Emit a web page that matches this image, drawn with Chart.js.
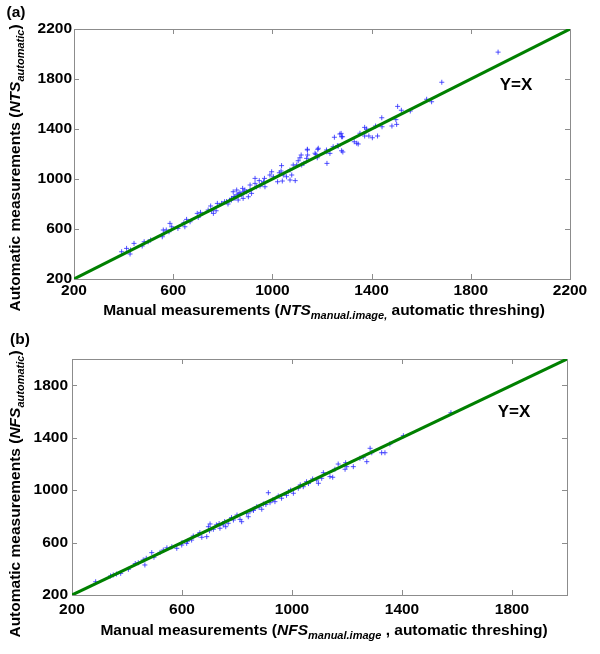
<!DOCTYPE html>
<html>
<head>
<meta charset="utf-8">
<script src="https://cdn.jsdelivr.net/npm/chart.js@4"></script>
<style>
  body { margin: 0; background: #fff; }
  #wrap { position: relative; width: 600px; height: 654px; font-family: "Liberation Sans", Arial, sans-serif; font-weight: bold; color: #000; }
  canvas { position: absolute; left: 0; }
  .lbl { position: absolute; white-space: nowrap; font-size: 15.5px; transform: translate(-50%, -50%); }
  .rot { transform: translate(-50%, -50%) rotate(-90deg); }
  .lbl sub { font-size: 11px; font-style: italic; vertical-align: -4px; }
  .lbl i { font-style: italic; }
  .yx { font-size: 17px; }
</style>
</head>
<body>
<div id="wrap">
  <canvas id="chartA" width="600" height="325" style="top:0"></canvas>
  <canvas id="chartB" width="600" height="329" style="top:325px"></canvas>

  <div class="lbl" style="left:16px; top:12px">(a)</div>
  <div class="lbl rot" style="left:16px; top:168px">Automatic measurements (<i>NTS</i><sub>automatic</sub>)</div>
  <div class="lbl" style="left:324px; top:311px">Manual measurements (<i>NTS</i><sub>manual.image,</sub> automatic threshing)</div>
  <div class="lbl yx" style="left:516px; top:85px">Y=X</div>

  <div class="lbl" style="left:20px; top:339px">(b)</div>
  <div class="lbl rot" style="left:16px; top:494px">Automatic measurements (<i>NFS</i><sub>automatic</sub>)</div>
  <div class="lbl" style="left:324px; top:631px">Manual measurements (<i>NFS</i><sub>manual.image</sub> , automatic threshing)</div>
  <div class="lbl yx" style="left:514px; top:412px">Y=X</div>
</div>
<script>
// Panel (a): NTS, manual vs automatic
const ntsManual = [392, 412, 428, 426, 442, 475, 483, 499, 509, 560, 563, 572, 556, 587, 594, 583, 619, 643, 647, 654,
  668, 697, 701, 710, 741, 751, 762, 773, 778, 795, 807, 821, 835, 849, 856, 858, 862, 755, 815, 828,
  845, 870, 885, 862, 842, 876, 896, 916, 849, 882, 835, 903, 869, 880, 889, 910, 910, 930, 930, 936,
  950, 970, 947, 957, 964, 968, 990, 997, 1004, 1021, 1028, 1035, 1037, 1040, 1044, 1057, 1071, 1071, 1078, 1092,
  1084, 1098, 1104, 1111, 1118, 1116, 1127, 1138, 1141, 1142, 1141, 1172, 1175, 1181, 1183, 1185, 1218, 1219, 1220, 1232,
  1245, 1250, 1262, 1266, 1272, 1277, 1279, 1279, 1283, 1284, 1330, 1340, 1346, 1353, 1372, 1372, 1377, 1380, 1389, 1403,
  1416, 1424, 1441, 1442, 1482, 1498, 1501, 1505, 1520, 1556, 1622, 1642, 1683, 1910];
const ntsAuto = [418, 445, 432, 400, 485, 464, 498, 498, 512, 592, 565, 592, 538, 645, 618, 578, 605, 650, 618, 677,
  658, 725, 693, 733, 752, 784, 725, 746, 805, 805, 818, 800, 832, 845, 912, 872, 832, 746, 820, 830,
  860, 880, 900, 880, 898, 872, 898, 885, 858, 845, 845, 858, 890, 925, 912, 952, 912, 1005, 965, 938,
  944, 938, 987, 960, 978, 1005, 1032, 1058, 1018, 978, 1050, 1064, 1107, 984, 1032, 1018, 1072, 992, 1032, 987,
  1112, 1112, 1146, 1170, 1112, 1192, 1125, 1165, 1232, 1192, 1238, 1206, 1197, 1170, 1237, 1246, 1232, 1218, 1125, 1205,
  1258, 1334, 1266, 1264, 1360, 1365, 1338, 1226, 1338, 1216, 1298, 1286, 1280, 1366, 1413, 1344, 1378, 1400, 1344, 1330,
  1424, 1344, 1490, 1418, 1424, 1475, 1437, 1581, 1550, 1544, 1638, 1618, 1774, 2015];
const ntsTicks = [200, 600, 1000, 1400, 1800, 2200];

// Panel (b): NFS, manual vs automatic
const nfsManual = [286, 340, 350, 362, 377, 405, 430, 441, 459, 465, 470, 490, 498, 520, 532, 545, 563, 581, 599, 600,
  617, 620, 635, 641, 659, 665, 672, 690, 696, 700, 702, 714, 725, 735, 738, 750, 755, 759, 768, 780,
  787, 800, 811, 817, 835, 841, 847, 859, 860, 872, 880, 890, 896, 905, 914, 920, 930, 938, 950, 962,
  980, 987, 995, 1005, 1023, 1030, 1041, 1053, 1060, 1075, 1090, 1096, 1108, 1114, 1138, 1148, 1156, 1168, 1193, 1195,
  1199, 1223, 1247, 1259, 1272, 1284, 1290, 1326, 1338, 1356, 1405, 1578];
const nfsAuto = [301, 345, 353, 360, 365, 396, 440, 446, 467, 429, 480, 523, 488, 525, 543, 560, 568, 556, 581, 600,
  594, 610, 619, 650, 658, 675, 640, 645, 721, 690, 742, 701, 735, 745, 709, 734, 760, 721, 747, 790,
  772, 810, 777, 759, 823, 797, 835, 854, 845, 874, 870, 854, 894, 890, 980, 904, 925, 912, 955, 938,
  960, 988, 1000, 976, 1014, 1040, 1026, 1064, 1050, 1085, 1077, 1052, 1090, 1133, 1103, 1098, 1159, 1199, 1159, 1209,
  1179, 1179, 1243, 1251, 1217, 1319, 1285, 1285, 1285, 1352, 1415, 1590];
const nfsTicks = [200, 600, 1000, 1400, 1800];

const tickFont = { family: '"Liberation Sans", Arial, sans-serif', size: 15.5, weight: 'bold' };

// MATLAB-style grey box with inward ticks on all four sides
const boxTicks = {
  id: 'boxTicks',
  beforeDatasetsDraw(chart) {
    const { ctx, chartArea: a, scales: { x, y } } = chart;
    ctx.save();
    ctx.strokeStyle = '#8c8c8c';
    ctx.lineWidth = 1;
    ctx.strokeRect(a.left + 0.5, a.top + 0.5, a.right - a.left, a.bottom - a.top);
    ctx.beginPath();
    ticksOf(x).forEach(v => {
      const px = Math.round(x.getPixelForValue(v)) + 0.5;
      ctx.moveTo(px, a.bottom); ctx.lineTo(px, a.bottom - 5);
      ctx.moveTo(px, a.top); ctx.lineTo(px, a.top + 5);
    });
    ticksOf(y).forEach(v => {
      const py = Math.round(y.getPixelForValue(v)) + 0.5;
      ctx.moveTo(a.left, py); ctx.lineTo(a.left + 5, py);
      ctx.moveTo(a.right, py); ctx.lineTo(a.right - 5, py);
    });
    ctx.stroke();
    ctx.restore();
  }
};
function ticksOf(scale) { return scale.ticks.map(t => t.value); }

function makeChart(id, manual, auto, ticks, box) {
  const lo = ticks[0], hi = box.max;
  const points = manual.map((v, i) => ({ x: v, y: auto[i] }));
  const axis = (size, labelPad) => ({
    type: 'linear', min: lo, max: hi,
    grid: { display: false, drawTicks: false },
    border: { display: false },
    ticks: { color: '#000', font: tickFont, padding: labelPad, maxRotation: 0, callback: v => String(v) },
    afterBuildTicks: s => { s.ticks = ticks.map(v => ({ value: v })); },
    afterFit: s => { if (s.isHorizontal()) s.height = size; else s.width = size; }
  });
  return new Chart(document.getElementById(id), {
    type: 'scatter',
    data: {
      datasets: [
        {
          data: points, order: 1,
          pointStyle: 'cross', pointRadius: 2.5, borderWidth: 1,
          borderColor: 'rgba(40,40,255,0.8)', backgroundColor: 'rgba(40,40,255,0.8)'
        },
        {
          type: 'line', order: 0,
          data: [{ x: lo, y: lo }, { x: hi, y: hi }],
          borderColor: '#008000', borderWidth: 3, pointRadius: 0, fill: false
        }
      ]
    },
    options: {
      responsive: false, animation: false, devicePixelRatio: 1,
      layout: { padding: { top: box.top, right: box.right, left: 0, bottom: 0 } },
      plugins: { legend: { display: false }, tooltip: { enabled: false } },
      scales: { x: axis(box.xh, box.xpad), y: axis(box.yw, box.ypad) }
    },
    plugins: [boxTicks]
  });
}

makeChart('chartA', ntsManual, ntsAuto, ntsTicks, { max: 2200, top: 29, right: 30, xh: 46, yw: 74, xpad: 2, ypad: 2 });
makeChart('chartB', nfsManual, nfsAuto, nfsTicks, { max: 2000, top: 34, right: 33, xh: 59, yw: 72, xpad: 5, ypad: 4 });
</script>
</body>
</html>
